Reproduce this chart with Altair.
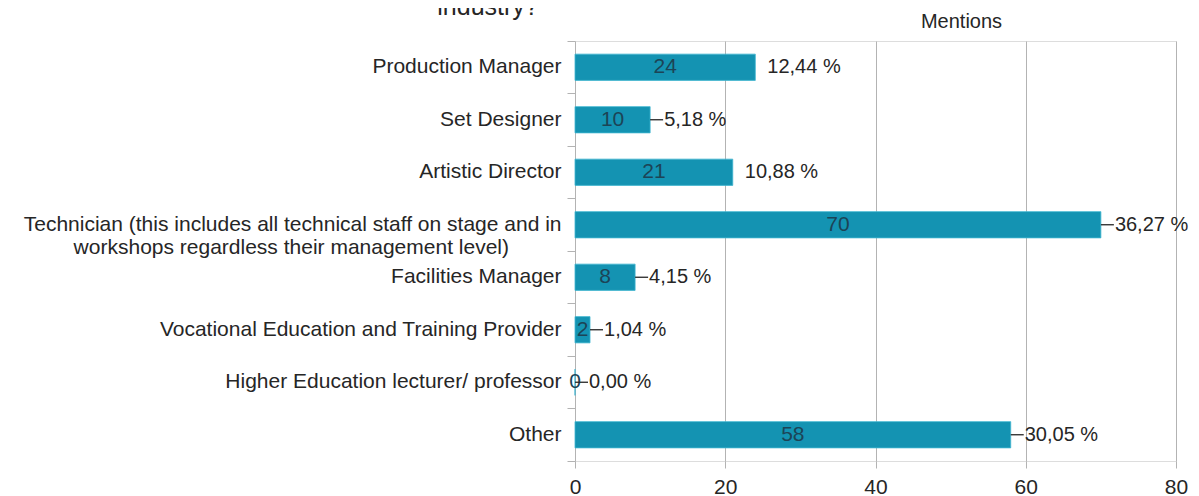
import altair as alt
import pandas as pd

categories = [
    "Production Manager",
    "Set Designer",
    "Artistic Director",
    "Technician (this includes all technical staff on stage and in|workshops regardless their management level)" + "\u00a0" * 9 + "\u200b",
    "Facilities Manager",
    "Vocational Education and Training Provider",
    "Higher Education lecturer/ professor",
    "Other",
]
mentions = [24, 10, 21, 70, 8, 2, 0, 58]
percent_labels = ["12,44 %", "5,18 %", "10,88 %", "36,27 %", "4,15 %", "1,04 %", "0,00 %", "30,05 %"]
leader_line = [False, True, False, True, True, True, True, True]
x_ticks = [0, 20, 40, 60, 80]
title_text = "industry?"
x_title = "Mentions"

df = pd.DataFrame({
    "cat": categories,
    "n": mentions,
    "pct": percent_labels,
    "lead": leader_line,
})
df["half"] = df["n"] / 2

FONT = "Liberation Sans"
FS = 21
PFS = 20
BAR = "#1493b2"
GRAY = "#b3b3b3"
TXT = "#262626"

y_enc = alt.Y(
    "cat:N",
    sort=categories,
    scale=alt.Scale(paddingInner=0, paddingOuter=0),
    axis=alt.Axis(
        title=None,
        domain=False,
        ticks=True,
        tickSize=8,
        tickColor=GRAY,
        bandPosition=1,
        tickExtra=True,
        labelPadding=6,
        labelFontSize=FS,
        labelFont=FONT,
        labelColor=TXT,
        labelLimit=0,
        labelLineHeight=23,
        labelExpr="split(datum.label, '|')",
    ),
)

x_scale = alt.Scale(domain=[0, 80], nice=False, zero=True)

base = alt.Chart(df)

bars = base.mark_bar(
    color=BAR, height=alt.RelativeBandSize(0.5), stroke="#3fb5d0", strokeWidth=0.8
).encode(
    x=alt.X(
        "n:Q",
        scale=x_scale,
        axis=alt.Axis(
            values=x_ticks,
            title=x_title,
            titleX=386,
            titleY=-434,
            titleAlign="center",
            titleBaseline="alphabetic",
            titleFont=FONT,
            titleFontSize=20,
            titleFontWeight="normal",
            titleColor=TXT,
            grid=True,
            gridColor=GRAY,
            domain=False,
            tickColor=GRAY,
            tickSize=7,
            labelPadding=8,
            labelFont=FONT,
            labelFontSize=FS,
            labelColor=TXT,
            labelFlush=False,
        ),
    ),
    y=y_enc,
)

counts = base.mark_text(
    font=FONT, fontSize=FS, color="#1c4456", align="center", baseline="middle"
).encode(
    x=alt.X("half:Q", scale=x_scale),
    y=alt.Y("cat:N", sort=categories),
    text="n:Q",
)

leaders = base.transform_filter("datum.lead").mark_rule(
    color=TXT, strokeWidth=1.3, x2Offset=13
).encode(
    x=alt.X("n:Q", scale=x_scale),
    x2="n:Q",
    y=alt.Y("cat:N", sort=categories),
)

pct_lead = base.transform_filter("datum.lead").mark_text(
    font=FONT, fontSize=PFS, color=TXT, align="left", baseline="middle", dx=14
).encode(
    x=alt.X("n:Q", scale=x_scale),
    y=alt.Y("cat:N", sort=categories),
    text="pct:N",
)

pct_free = base.transform_filter("!datum.lead").mark_text(
    font=FONT, fontSize=PFS, color=TXT, align="left", baseline="middle", dx=12
).encode(
    x=alt.X("n:Q", scale=x_scale),
    y=alt.Y("cat:N", sort=categories),
    text="pct:N",
)

title = alt.Chart(pd.DataFrame({"t": [title_text]})).mark_text(
    font=FONT, fontSize=25, color=TXT, align="center", baseline="alphabetic"
).encode(
    x=alt.value(-87),
    y=alt.value(-26),
    text="t:N",
)

chart = alt.layer(bars, counts, leaders, pct_lead, pct_free, title).properties(
    width=601,
    height=420,
    autosize=alt.AutoSizeParams(type="none"),
    padding={"left": 567, "top": 33, "right": 15, "bottom": 35},
).configure_view(
    stroke=GRAY, strokeWidth=1
).configure(background="white")

chart.save("out.html", embed_options={"renderer": "svg", "actions": False})
